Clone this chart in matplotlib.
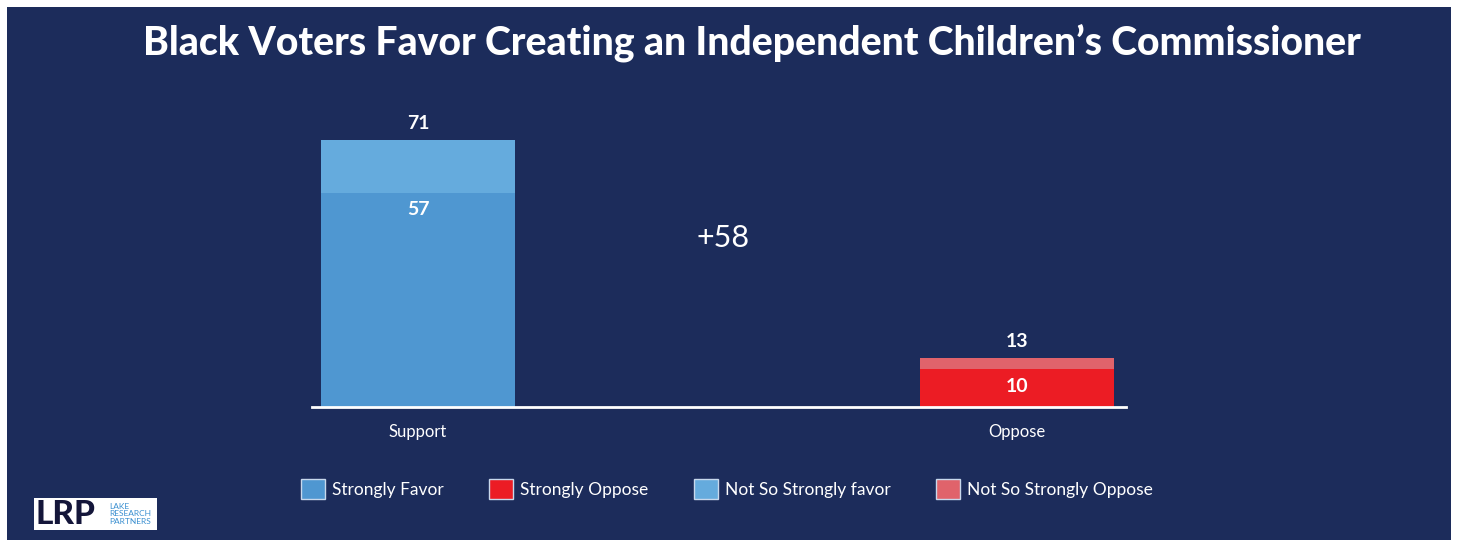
"""Black voters support for an independent children's commissioner"""

import matplotlib.pyplot as plt
from matplotlib.patches import Patch, Rectangle

categories = ["Support", "Oppose"]
strong = [57, 10]
not_strong = [14, 3]
strong_names = ["Strongly Favor", "Strongly Oppose"]
soft_names = ["Not So Strongly favor", "Not So Strongly Oppose"]

navy = "#1c2c5b"
strong_colors = ["#4f97d1", "#ec1c24"]
soft_colors = ["#65abdd", "#e0636b"]

plt.rcParams["font.family"] = ["Lato", "DejaVu Sans"]

fig = plt.figure(figsize=(14.57, 5.4), dpi=100)
fig.patch.set_facecolor("white")
fig.add_artist(Rectangle((7 / 1457, 0), 1444 / 1457, 533 / 540,
                         transform=fig.transFigure, facecolor=navy,
                         edgecolor="none", zorder=0))

ax = fig.add_axes([312 / 1457, 133 / 540, 814 / 1457, 301 / 540])
ax.set_facecolor("none")

x = list(range(len(categories)))
totals = [s + n for s, n in zip(strong, not_strong)]
ax.bar(x, strong, width=0.324, color=strong_colors, edgecolor="none", zorder=2)
ax.bar(x, not_strong, bottom=strong, width=0.324, color=soft_colors,
       edgecolor="none", zorder=2)

for i in x:
    ax.text(i, totals[i] + 4.4, str(totals[i]), ha="center", va="center",
            color="white", fontsize=14, fontweight="bold")
    ax.text(i, strong[i] - 4.6, str(strong[i]), ha="center", va="center",
            color="white", fontsize=14, fontweight="bold")

ax.text(0.51, 45, f"+{totals[0] - totals[1]}", ha="center", va="center",
        color="white", fontsize=22)

ax.set_xlim(-0.177, 1.182)
ax.set_ylim(0, 80)
ax.set_xticks(x)
ax.set_xticklabels(categories, color="white", fontsize=12)
ax.tick_params(axis="x", length=0, pad=12)
ax.set_yticks([])
for side in ["top", "right", "left"]:
    ax.spines[side].set_visible(False)
ax.spines["bottom"].set_color("white")
ax.spines["bottom"].set_linewidth(2)

fig.text(752 / 1457, 1 - 43 / 540, "Black Voters Favor Creating an Independent Children\u2019s Commissioner",
         ha="center", va="center", color="white", fontsize=28.2,
         fontweight="black")

handles = [
    Patch(facecolor=strong_colors[0], edgecolor="#c8d8ec", label=strong_names[0]),
    Patch(facecolor=strong_colors[1], edgecolor="#c8d8ec", label=strong_names[1]),
    Patch(facecolor=soft_colors[0], edgecolor="#c8d8ec", label=soft_names[0]),
    Patch(facecolor=soft_colors[1], edgecolor="#c8d8ec", label=soft_names[1]),
]
leg = fig.legend(handles=handles, loc="center", ncol=4,
                 bbox_to_anchor=(727 / 1457, 1 - 489 / 540), frameon=False,
                 fontsize=12.5, handlelength=1.4, handleheight=1.4,
                 handletextpad=0.4, columnspacing=2.6)
for t in leg.get_texts():
    t.set_color("white")

# logo
fig.add_artist(Rectangle((34 / 1457, 1 - 530 / 540), 123 / 1457, 32 / 540,
                         transform=fig.transFigure, facecolor="white",
                         edgecolor="none"))
fig.text(35 / 1457, 1 - 515 / 540, "LRP", ha="left", va="center",
         color="#14163a", fontsize=24, fontweight="black")
fig.text(109 / 1457, 1 - 514 / 540, "LAKE\nRESEARCH\nPARTNERS", ha="left",
         va="center", color="#3a8fd0", fontsize=6, linespacing=1.1)

fig.savefig("out.png", dpi=100, facecolor=fig.get_facecolor())
